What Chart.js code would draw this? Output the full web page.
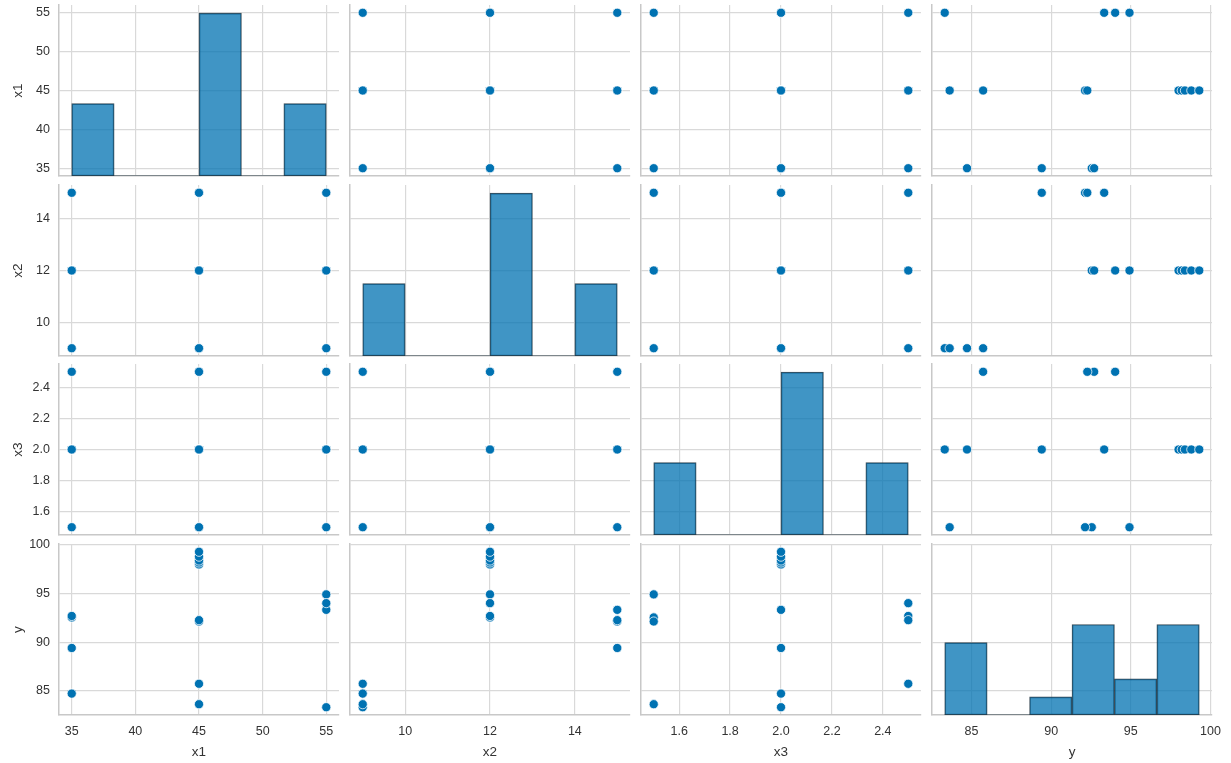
<!DOCTYPE html>
<html lang="es">
<head>
<meta charset="utf-8">
<title>Pairplot x1 x2 x3 y</title>
<script src="https://cdn.jsdelivr.net/npm/chart.js"></script>
<style>
  html, body { margin: 0; padding: 0; background: #fff; }
  #contenedor { position: relative; width: 1231px; height: 763px; overflow: hidden; background: #fff; }
  #contenedor canvas { position: absolute; }
</style>
</head>
<body>
<div id="contenedor"></div>
<script>
// Datos (17 ensayos)
const x1 = [35, 55, 35, 55, 35, 55, 35, 55, 45, 45, 45, 45, 45, 45, 45, 45, 45];
const x2 = [9, 9, 15, 15, 12, 12, 12, 12, 9, 15, 9, 15, 12, 12, 12, 12, 12];
const x3 = [2, 2, 2, 2, 1.5, 1.5, 2.5, 2.5, 1.5, 1.5, 2.5, 2.5, 2, 2, 2, 2, 2];
const y = [84.72, 83.32, 89.41, 93.33, 92.55, 94.92, 92.70, 94.02, 83.63, 92.13, 85.73, 92.27, 98.0, 98.2, 98.4, 98.8, 99.3];

// Nombres de las variables y marcas de los ejes
const nombres = ['x1', 'x2', 'x3', 'y'];
const ticksX1 = [35, 40, 45, 50, 55];
const ticksX2 = [10, 12, 14];
const ticksX3 = [1.6, 1.8, 2.0, 2.2, 2.4];
const ticksY = [85, 90, 95, 100];
const decimales = [0, 0, 1, 0];
const nBins = 6;

document.addEventListener('DOMContentLoaded', () => {
  if (typeof Chart === 'undefined') {
    console.warn('Chart.js no está cargado');
    return;
  }

  const variables = [x1, x2, x3, y];
  const marcas = [ticksX1, ticksX2, ticksX3, ticksY];

  // Posición de los paneles (en píxeles)
  const colLeft = [59, 350, 641, 932];
  const rowTop = [5, 185, 364, 544];
  const panelW = 280;
  const panelH = 171;
  const MT = 9;   // margen arriba para que no se corten las etiquetas
  const MR = 16;  // margen a la derecha

  const azul = '#0072b2';
  const gris = '#d9d9d9';
  const borde = '#c8c8c8';
  const texto = '#333333';

  Chart.defaults.font.family = '"Liberation Sans", Arial, sans-serif';
  Chart.defaults.color = texto;

  // Rango con margen del 5% (como matplotlib)
  function rango(valores) {
    const min = Math.min(...valores), max = Math.max(...valores);
    const m = (max - min) * 0.05;
    return { min: min - m, max: max + m };
  }

  // Histograma con 6 bins entre el mínimo y el máximo
  function histograma(valores) {
    const min = Math.min(...valores), max = Math.max(...valores);
    const ancho = (max - min) / nBins;
    const cuentas = new Array(nBins).fill(0);
    valores.forEach(v => {
      let i = Math.floor((v - min) / ancho + 1e-9);
      if (i >= nBins) i = nBins - 1;
      cuentas[i]++;
    });
    return { min, max, barras: cuentas.map((c, i) => ({ x: min + ancho * (i + 0.5), y: c })) };
  }

  const histos = variables.map(histograma);
  const maxCuenta = Math.max(...histos.map(h => Math.max(...h.barras.map(b => b.y)))) * 1.05;

  function ejeLineal(v, visible, tamano, horizontal) {
    const r = rango(variables[v]);
    return {
      type: 'linear',
      position: horizontal ? 'bottom' : 'left',
      min: r.min,
      max: r.max,
      offset: false,
      afterBuildTicks: s => { s.ticks = marcas[v].map(t => ({ value: t })); },
      afterFit: s => {
        if (horizontal) s.height = tamano; else s.width = tamano;
        // sin relleno extra para que todos los paneles queden alineados
        s.paddingLeft = 0; s.paddingRight = 0; s.paddingTop = 0; s.paddingBottom = 0;
      },
      ticks: {
        display: visible,
        padding: 9,
        font: { size: 12.5 },
        color: texto,
        callback: val => Number(val).toFixed(decimales[v])
      },
      grid: { color: gris, lineWidth: 1.2, drawTicks: false, offset: false },
      border: { display: true, color: borde, width: 1.5 },
      title: {
        display: visible,
        text: nombres[v],
        font: { size: 13.5 },
        color: texto,
        padding: horizontal ? { top: 0, bottom: 3 } : { top: 10, bottom: 0 }
      }
    };
  }

  const contenedor = document.getElementById('contenedor');

  for (let r = 0; r < 4; r++) {
    for (let c = 0; c < 4; c++) {
      const ML = c === 0 ? 59 : 6;
      const MB = r === 3 ? 763 - rowTop[3] - panelH : 6;
      const canvas = document.createElement('canvas');
      canvas.width = panelW + ML + MR;
      canvas.height = panelH + MB + MT;
      canvas.style.left = (colLeft[c] - ML) + 'px';
      canvas.style.top = (rowTop[r] - MT) + 'px';
      contenedor.appendChild(canvas);

      const scales = {
        x: ejeLineal(c, r === 3, MB, true),
        y: ejeLineal(r, c === 0, ML, false)
      };

      let config;
      if (r === c) {
        // Diagonal: histograma de la variable
        const h = histos[c];
        scales.yc = { type: 'linear', display: false, min: 0, max: maxCuenta };
        config = {
          type: 'bar',
          data: {
            datasets: [{
              type: 'bar',
              data: h.barras,
              yAxisID: 'yc',
              backgroundColor: 'rgba(0, 114, 178, 0.75)',
              borderColor: 'rgba(25, 45, 58, 0.85)',
              borderWidth: 1,
              borderSkipped: false,
              barPercentage: 1,
              categoryPercentage: 1
            }, {
              type: 'line',
              data: [{ x: h.min, y: 0 }, { x: h.max, y: 0 }],
              yAxisID: 'yc',
              borderColor: 'rgba(25, 45, 58, 0.85)',
              borderWidth: 1,
              pointRadius: 0
            }]
          }
        };
      } else {
        // Fuera de la diagonal: dispersión
        config = {
          type: 'scatter',
          data: {
            datasets: [{
              data: variables[c].map((v, i) => ({ x: v, y: variables[r][i] })),
              backgroundColor: azul,
              borderColor: '#ffffff',
              borderWidth: 0.75,
              pointRadius: 4.6,
              clip: false
            }]
          }
        };
      }

      config.options = {
        responsive: false,
        animation: false,
        events: [],
        layout: { padding: { top: MT, right: MR, left: 0, bottom: 0 }, autoPadding: false },
        plugins: { legend: { display: false }, tooltip: { enabled: false } },
        scales
      };
      new Chart(canvas, config);
    }
  }
});
</script>
</body>
</html>
